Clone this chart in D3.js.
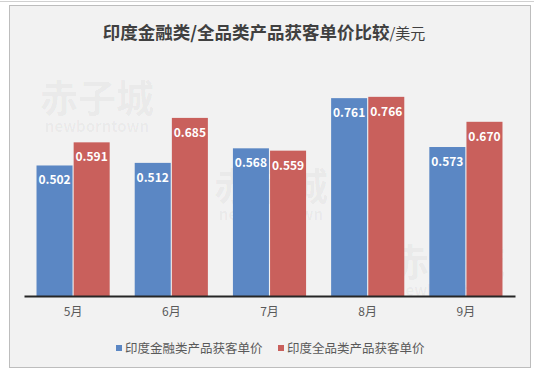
<!DOCTYPE html>
<html>
<head>
<meta charset="utf-8">
<script src="https://cdn.jsdelivr.net/npm/d3@7"></script>
<style>
  html, body { margin: 0; padding: 0; background: #fff; }
  svg { display: block; font-family: "Noto Sans CJK SC", "Noto Sans", sans-serif; }
</style>
</head>
<body>
<div id="chart"></div>
<script>
// data
const months = ['5月', '6月', '7月', '8月', '9月'];
const seriesNames = ['印度金融类产品获客单价', '印度全品类产品获客单价'];
const finance = [0.502, 0.512, 0.568, 0.761, 0.573];
const allGoods = [0.591, 0.685, 0.559, 0.766, 0.670];
const colors = ['#5b87c4', '#c9605c'];

const width = 534, height = 371;
const svg = d3.select('#chart').append('svg')
    .attr('width', width)
    .attr('height', height);

// outer frame
svg.append('line')
    .attr('x1', 0).attr('x2', width).attr('y1', 1.5).attr('y2', 1.5)
    .attr('stroke', '#d0d0d0');
svg.append('rect')
    .attr('x', 9.5).attr('y', 5.5)
    .attr('width', 521).attr('height', 362)
    .attr('fill', '#f2f2f2')
    .attr('stroke', '#bdbdbd');

// watermarks (behind bars)
const marks = [[97, 112], [271, 200], [448, 276]];
marks.forEach(([cx, cy]) => {
    svg.append('text')
        .attr('x', cx).attr('y', cy)
        .attr('text-anchor', 'middle')
        .attr('font-size', 38).attr('font-weight', 'bold')
        .attr('fill', '#000').attr('fill-opacity', 0.045)
        .text('赤子城');
    svg.append('text')
        .attr('x', cx).attr('y', cy + 20)
        .attr('text-anchor', 'middle')
        .attr('font-size', 15).attr('font-weight', 'bold')
        .attr('fill', '#000').attr('fill-opacity', 0.04)
        .text('newborntown');
});

// title
const title = svg.append('text')
    .attr('x', 264).attr('y', 39)
    .attr('text-anchor', 'middle')
    .attr('fill', '#404040');
title.append('tspan')
    .attr('font-size', 17.5).attr('font-weight', 'bold')
    .text('印度金融类/全品类产品获客单价比较');
title.append('tspan')
    .attr('font-size', 15)
    .text('/美元');

// scales
const x = d3.scaleBand()
    .domain(months)
    .range([24, 515])
    .paddingInner(0.255)
    .paddingOuter(0.1275);

const xs = d3.scaleBand()
    .domain([0, 1])
    .range([0, x.bandwidth()])
    .paddingInner(0.03);

const y = d3.scaleLinear()
    .domain([0, 0.9])
    .range([296, 296 - 0.9 * 260]);

const rows = months.map((m, i) => ({ month: m, vals: [finance[i], allGoods[i]] }));

const groups = svg.selectAll('.grp')
    .data(rows)
    .enter().append('g')
    .attr('class', 'grp')
    .attr('transform', d => `translate(${x(d.month)},0)`);

const bars = groups.selectAll('.bar')
    .data(d => d.vals.map((v, k) => ({ v, k })))
    .enter();

bars.append('rect')
    .attr('class', 'bar')
    .attr('x', d => xs(d.k))
    .attr('y', d => y(d.v))
    .attr('width', xs.bandwidth())
    .attr('height', d => y(0) - y(d.v))
    .attr('fill', d => colors[d.k]);

bars.append('text')
    .attr('x', d => xs(d.k) + xs.bandwidth() / 2)
    .attr('y', d => y(d.v) + 19)
    .attr('text-anchor', 'middle')
    .attr('font-size', 12)
    .attr('font-weight', 'bold')
    .attr('fill', '#fff')
    .text(d => d.v.toFixed(3));

// x axis
const xAxis = svg.append('g')
    .attr('transform', `translate(0,${y(0)})`)
    .call(d3.axisBottom(x).tickSize(0).tickPadding(11));
xAxis.select('.domain')
    .attr('stroke', '#262626')
    .attr('stroke-width', 2);
xAxis.selectAll('text')
    .attr('font-size', 12)
    .attr('fill', '#595959')
    .style('font-family', '"Noto Sans CJK SC", sans-serif');

// legend
const legendX = [116, 278];
const legend = svg.selectAll('.leg')
    .data(seriesNames)
    .enter().append('g')
    .attr('class', 'leg')
    .attr('transform', (d, i) => `translate(${legendX[i]},348)`);
legend.append('rect')
    .attr('x', 0).attr('y', -3)
    .attr('width', 6).attr('height', 6)
    .attr('fill', (d, i) => colors[i]);
legend.append('text')
    .attr('x', 9).attr('y', 4.5)
    .attr('font-size', 12.5)
    .attr('fill', '#595959')
    .text(d => d);
</script>
</body>
</html>
